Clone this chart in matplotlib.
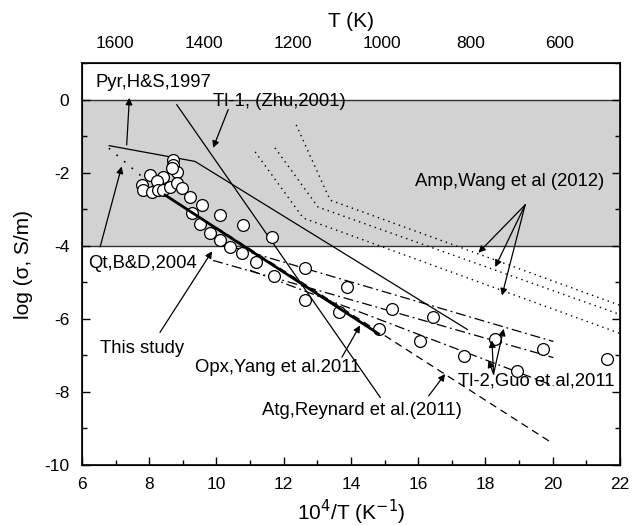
import matplotlib
matplotlib.use('Agg')
import matplotlib.pyplot as plt
from matplotlib.ticker import MultipleLocator

plt.rcParams['font.family'] = ['Liberation Sans', 'DejaVu Sans']
plt.rcParams['axes.unicode_minus'] = False

# ---- data: this study ----
x_study = [8.72, 8.72, 8.82, 8.67, 8.02, 8.42, 8.22, 7.78, 7.82, 8.07, 8.27, 8.42,
           8.62, 8.82, 8.97, 9.21, 9.56, 9.26, 10.11, 9.51, 9.81, 10.11, 10.80, 11.65,
           10.40, 10.76, 11.19, 11.71, 12.64, 13.87, 12.64, 13.63, 15.22, 16.44, 14.84,
           16.04, 17.35, 18.29, 18.94, 19.71, 21.6]
y_study = [-1.65, -1.79, -1.97, -1.88, -2.06, -2.11, -2.24, -2.34, -2.47, -2.52, -2.47, -2.47,
           -2.38, -2.29, -2.43, -2.66, -2.88, -3.11, -3.16, -3.39, -3.65, -3.85, -3.43, -3.75,
           -4.03, -4.21, -4.45, -4.82, -4.62, -5.13, -5.48, -5.82, -5.72, -5.95, -6.28,
           -6.61, -7.01, -6.55, -7.42, -6.82, -7.10]

# ---- literature lines ----
fit_x = [8.47, 14.82]; fit_y = [-2.61, -6.41]            # this study fit
pyr_x = [6.81, 9.36, 17.46]; pyr_y = [-1.26, -1.69, -6.29]  # Pyr, H&S 1997
tl1_x = [8.82, 14.87]; tl1_y = [-0.14, -8.15]             # Tl-1, Zhu 2001
atg_x = [10.0, 20.0]; atg_y = [-3.5, -9.41]               # Atg, Reynard 2011
qt_x = [6.8, 7.9]; qt_y = [-1.33, -2.2]                   # Qt, B&D 2004
amp1_x = [11.15, 12.58, 22.0]; amp1_y = [-1.43, -3.24, -6.40]
amp2_x = [11.74, 13.02, 22.0]; amp2_y = [-1.32, -2.94, -5.88]
amp3_x = [12.37, 13.38, 22.0]; amp3_y = [-0.69, -2.75, -5.63]
tl2a_x = [10.49, 20.02]; tl2a_y = [-4.04, -6.62]
tl2b_x = [9.90, 20.02]; tl2b_y = [-4.40, -7.06]
tl2c_x = [11.00, 20.02]; tl2c_y = [-4.67, -7.83]

top_T = [1600, 1400, 1200, 1000, 800, 600]
top_lim = (1674, 464)

fig = plt.figure(figsize=(6.32, 5.26), dpi=100)
ax = fig.add_axes([0.1297, 0.116, 0.8513, 0.764])
ax.set_xlim(6, 22)
ax.set_ylim(-10, 1)

ax.axhspan(-4, 0, facecolor='#d2d2d2', edgecolor='none', zorder=0)
ax.axhline(0, color='#333333', lw=1.0, zorder=1)
ax.axhline(-4, color='#333333', lw=1.0, zorder=1)

k = 'black'
ax.plot(pyr_x, pyr_y, color=k, lw=0.9, zorder=2)
ax.plot(tl1_x, tl1_y, color=k, lw=0.9, zorder=2)
ax.plot(atg_x, atg_y, color=k, lw=0.9, ls=(0, (6, 4)), zorder=2)
ax.plot(qt_x, qt_y, color=k, lw=1.2, ls=(0, (1, 5)), zorder=2)
for xx, yy in [(amp1_x, amp1_y), (amp2_x, amp2_y), (amp3_x, amp3_y)]:
    ax.plot(xx, yy, color=k, lw=1.0, ls=(0, (1, 3)), zorder=2)
for xx, yy in [(tl2a_x, tl2a_y), (tl2b_x, tl2b_y), (tl2c_x, tl2c_y)]:
    ax.plot(xx, yy, color=k, lw=0.9, ls=(0, (8, 3, 1.5, 3)), zorder=2)
ax.plot(x_study, y_study, ls='none', marker='o', ms=8.5, mfc='white', mec=k, mew=0.9, zorder=3)
ax.plot(fit_x, fit_y, color=k, lw=2.0, zorder=4)

fs = 13.3
ap = dict(arrowstyle='-|>', color=k, lw=0.9, mutation_scale=10, shrinkA=0, shrinkB=0)
ax.text(6.39, 0.46, 'Pyr,H&S,1997', fontsize=fs, va='center', ha='left')
ax.annotate('', xy=(7.41, 0.05), xytext=(7.33, -1.24), arrowprops=ap)
ax.text(9.9, -0.05, 'Tl-1, (Zhu,2001)', fontsize=fs, va='center', ha='left')
ax.annotate('', xy=(9.9, -1.32), xytext=(10.35, -0.27), arrowprops=ap)
ax.text(6.19, -4.49, 'Qt,B&D,2004', fontsize=fs, va='center', ha='left')
ax.annotate('', xy=(7.18, -1.83), xytext=(6.54, -4.03), arrowprops=ap)
ax.text(6.54, -6.81, 'This study', fontsize=fs, va='center', ha='left')
ax.annotate('', xy=(9.87, -4.15), xytext=(8.32, -6.37), arrowprops=ap)
ax.text(14.27, -7.33, 'Opx,Yang et al.2011', fontsize=fs, va='center', ha='right')
ax.annotate('', xy=(14.27, -6.18), xytext=(13.73, -7.05), arrowprops=ap)
ax.text(17.30, -8.5, 'Atg,Reynard et al.(2011)', fontsize=fs, va='center', ha='right')
ax.annotate('', xy=(16.80, -7.51), xytext=(16.31, -8.11), arrowprops=ap)
ax.text(17.19, -7.69, 'Tl-2,Guo et al,2011', fontsize=fs, va='center', ha='left', zorder=1)
for hx, hy in [(18.54, -6.27), (18.19, -6.59), (18.09, -7.14)]:
    ax.annotate('', xy=(hx, hy), xytext=(18.24, -7.51), arrowprops=ap)
ax.text(15.91, -2.24, 'Amp,Wang et al (2012)', fontsize=fs, va='center', ha='left')
for hx, hy in [(17.79, -4.19), (18.29, -4.58), (18.49, -5.36)]:
    ax.annotate('', xy=(hx, hy), xytext=(19.18, -2.88), arrowprops=ap)

ax.xaxis.set_major_locator(MultipleLocator(2))
ax.xaxis.set_minor_locator(MultipleLocator(1))
ax.yaxis.set_major_locator(MultipleLocator(2))
ax.yaxis.set_minor_locator(MultipleLocator(1))
ax.set_yticks([0, -2, -4, -6, -8, -10])
ax.tick_params(which='both', direction='in', top=True, right=True, width=1.0)
ax.tick_params(which='major', length=6, labelsize=12.5, pad=9)
ax.tick_params(which='minor', length=3.3)
for s in ax.spines.values():
    s.set_linewidth(1.2)
ax.set_xlabel('10$^4$/T (K$^{-1}$)', fontsize=15, labelpad=4)
ax.set_ylabel('log (σ, S/m)', fontsize=15, labelpad=8)

ax2 = ax.twiny()
ax2.set_xlim(*top_lim)
ax2.set_xticks(top_T)
ax2.tick_params(length=0, labelsize=12.5, pad=9)
ax2.set_xlabel('T (K)', fontsize=15, labelpad=6)

fig.savefig('out.png', dpi=100)
